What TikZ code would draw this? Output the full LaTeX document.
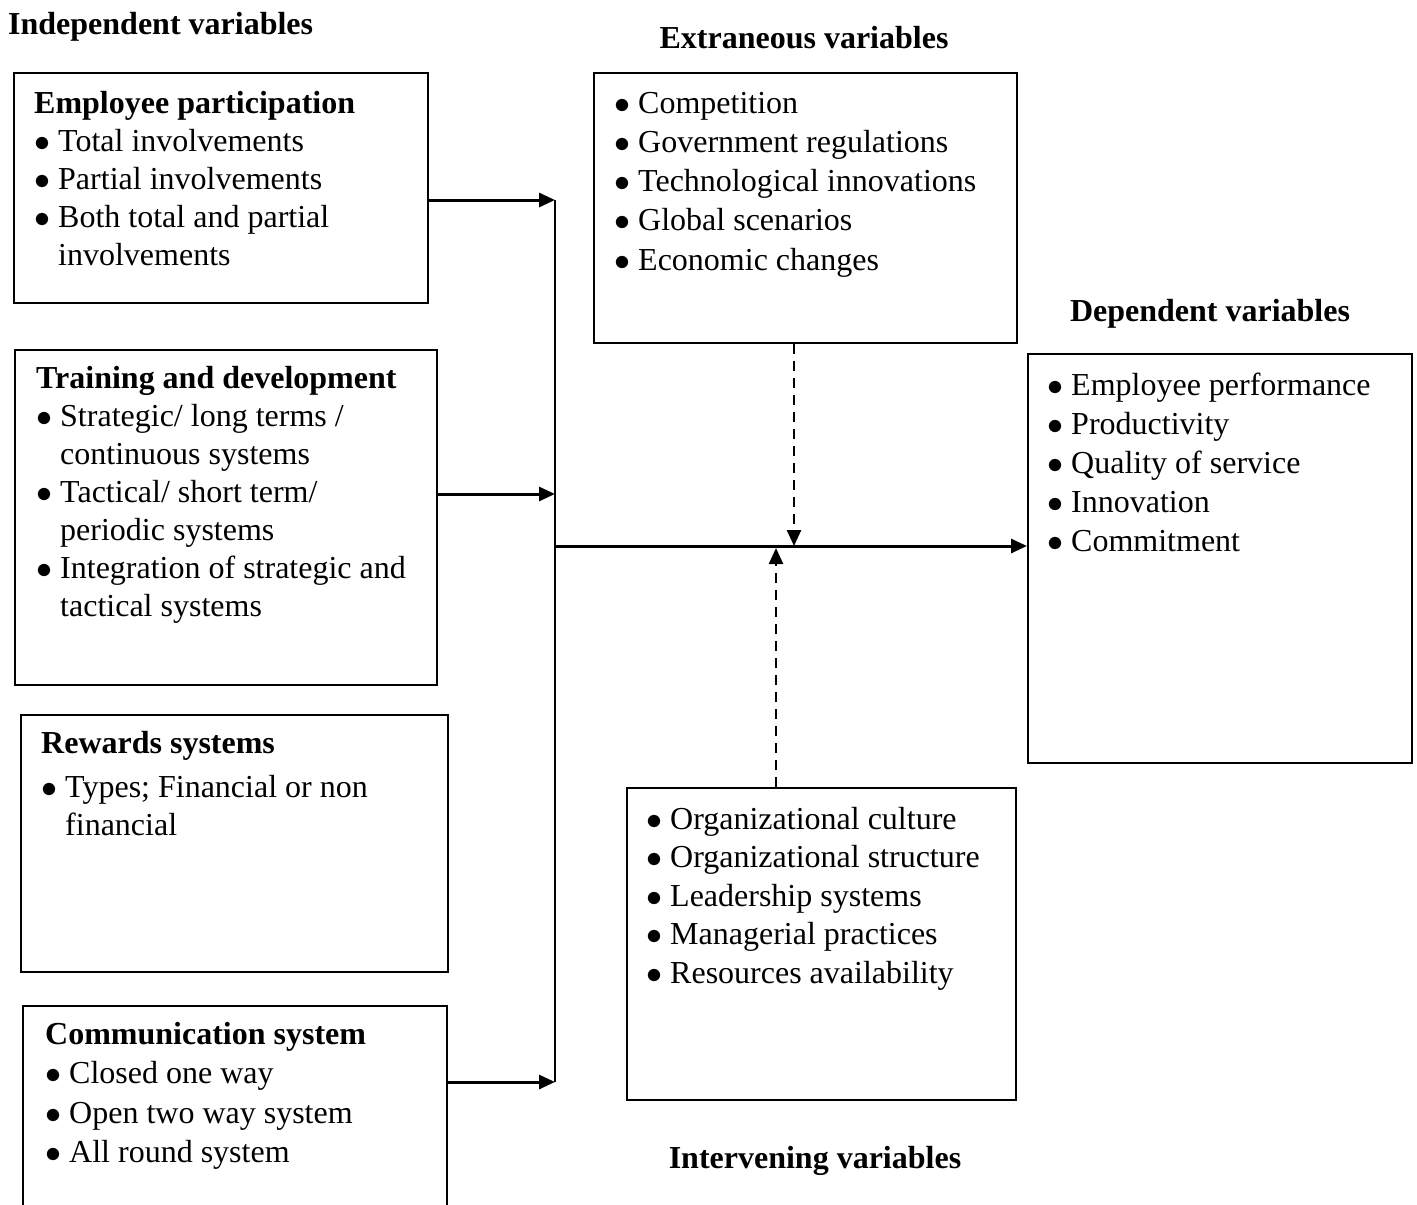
\documentclass[tikz,border=0pt]{standalone}
\usepackage{fix-cm}
\usepackage{fontspec}
\setmainfont{Liberation Serif}
\usetikzlibrary{arrows.meta}
\newcommand{\bu}[1]{\makebox[24pt][l]{$\bullet$}#1}
\newcommand{\cn}[1]{\hspace*{24pt}#1}
\newcommand{\lines}[1]{\begin{tabular}[t]{@{}l@{}}#1\end{tabular}}
\begin{document}
\begin{tikzpicture}[x=1pt,y=-1pt,
  boxst/.style={draw, line width=2pt, rectangle, inner sep=0pt, anchor=north west},
  txt/.style={anchor=base west, inner sep=0pt, font=\fontsize{32}{#1}\selectfont},
  txt/.default=39,
  ttl/.style={anchor=base, inner sep=0pt, font=\fontsize{32}{39}\selectfont\bfseries},
  arr/.style={line width=3pt, -{Triangle[length=16pt,width=14pt]}},
  darr/.style={line width=2.5pt, dash pattern=on 10pt off 7pt, -{Triangle[length=16pt,width=14pt]}}]
\useasboundingbox (0,0) rectangle (1417,1205);
\clip (0,0) rectangle (1417,1205);

% titles
\node[ttl, anchor=base west] (tind) at (8,34) {Independent variables};
\node[ttl] (text) at (804,48) {Extraneous variables};
\node[ttl] (tdep) at (1210,321) {Dependent variables};
\node[ttl] (tint) at (815,1168) {Intervening variables};

% boxes
\node[boxst, minimum width=414pt, minimum height=230pt] (b1) at (13,72) {};
\node[boxst, minimum width=422pt, minimum height=335pt] (b2) at (14,349) {};
\node[boxst, minimum width=427pt, minimum height=257pt] (b3) at (20,714) {};
\node[boxst, minimum width=424pt, minimum height=240pt] (b4) at (22,1005) {};
\node[boxst, minimum width=423pt, minimum height=270pt] (ext) at (593,72) {};
\node[boxst, minimum width=384pt, minimum height=409pt] (dep) at (1027,353) {};
\node[boxst, minimum width=389pt, minimum height=312pt] (int) at (626,787) {};

% box texts
\node[txt=38] (t1) at (34,113) {\lines{\textbf{Employee participation}\\
  \bu{Total involvements}\\
  \bu{Partial involvements}\\
  \bu{Both total and partial}\\
  \cn{involvements}}};
\node[txt=38] (t2) at (36,388) {\lines{\textbf{Training and development}\\
  \bu{Strategic/ long terms /}\\
  \cn{continuous systems}\\
  \bu{Tactical/ short term/}\\
  \cn{periodic systems}\\
  \bu{Integration of strategic and}\\
  \cn{tactical systems}}};
\node[txt=38] (t3) at (41,753) {\lines{\textbf{Rewards systems}\\[6pt]
  \bu{Types; Financial or non}\\
  \cn{financial}}};
\node[txt=39.5] (t4) at (45,1044) {\lines{\textbf{Communication system}\\
  \bu{Closed one way}\\
  \bu{Open two way system}\\
  \bu{All round system}}};
\node[txt=39.25] (t5) at (614,113) {\lines{\bu{Competition}\\
  \bu{Government regulations}\\
  \bu{Technological innovations}\\
  \bu{Global scenarios}\\
  \bu{Economic changes}}};
\node[txt=39] (t6) at (1047,395) {\lines{\bu{Employee performance}\\
  \bu{Productivity}\\
  \bu{Quality of service}\\
  \bu{Innovation}\\
  \bu{Commitment}}};
\node[txt=38.5] (t7) at (646,829) {\lines{\bu{Organizational culture}\\
  \bu{Organizational structure}\\
  \bu{Leadership systems}\\
  \bu{Managerial practices}\\
  \bu{Resources availability}}};

% connectors
\coordinate (j1) at (555,200);
\coordinate (j2) at (555,494);
\coordinate (j4) at (555,1082);
\coordinate (jm) at (555,546);
\coordinate (dd) at (794,546);
\coordinate (du) at (776,548);

\draw[line width=2pt] (j1) -- (j4);
\draw[arr] (b1.east |- j1) -- (j1);
\draw[arr] (b2.east |- j2) -- (j2);
\draw[arr] (b4.east |- j4) -- (j4);
\draw[arr] (jm) -- (dep.west |- jm);
\draw[darr] (ext.south -| dd) -- (dd);
\draw[darr] (int.north -| du) -- (du);
\end{tikzpicture}
\end{document}
